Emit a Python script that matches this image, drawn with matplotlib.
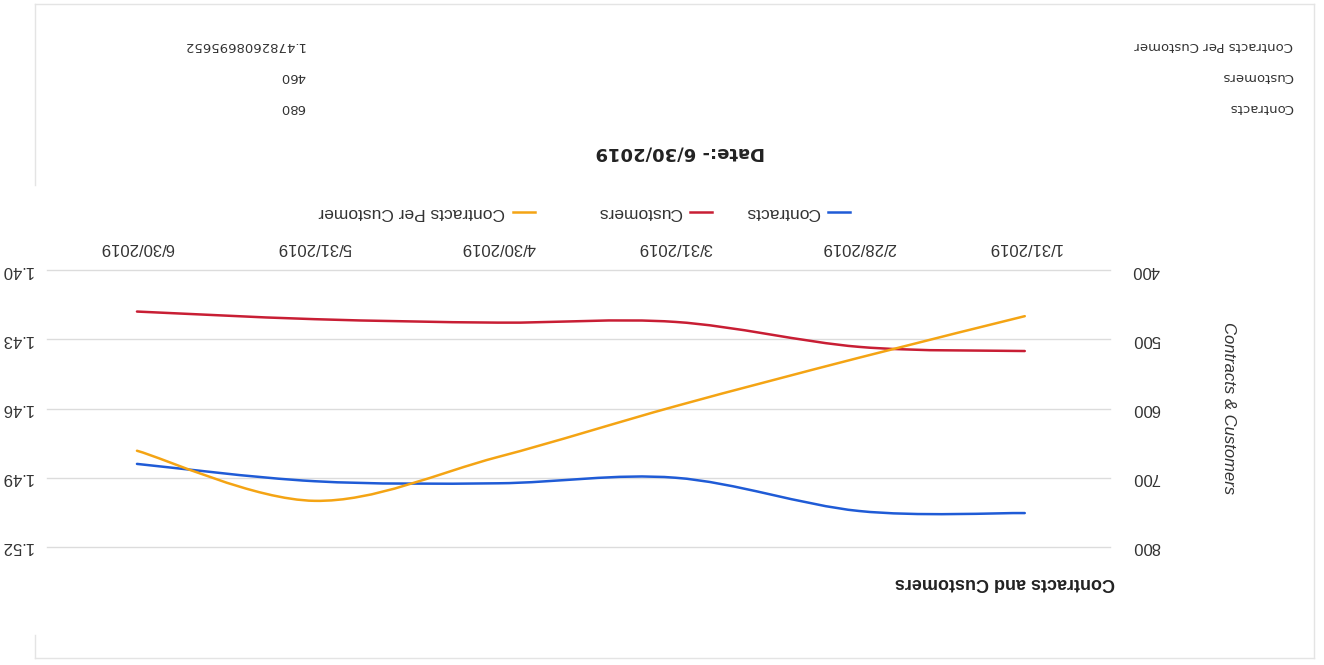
import matplotlib
matplotlib.use("Agg")
import matplotlib.pyplot as plt
import matplotlib.dates as mdates
import numpy as np
import pandas as pd
from matplotlib.lines import Line2D
from matplotlib.patches import PathPatch
from matplotlib.path import Path

dates = ["1/31/2019", "2/28/2019", "3/31/2019", "4/30/2019", "5/31/2019", "6/30/2019"]
contracts = [751, 748, 700, 708, 705, 680]
customers = [517, 511, 475, 476, 471, 460]
per_customer = [1.420, 1.438, 1.459, 1.481, 1.500, 1.4783]

left_ticks = [400, 500, 600, 700, 800]
right_ticks = [1.40, 1.43, 1.46, 1.49, 1.52]

series_names = ["Contracts", "Customers", "Contracts Per Customer"]
table_labels = ["Contracts", "Customers", "Contracts Per Customer"]
table_values = ["680", "460", "1.4782608695652"]
report_date = "6/30/2019"

BLUE = "#1f5bd6"
RED = "#c81e34"
ORANGE = "#f4a414"
GRID = "#dcdcdc"
BORDER = "#e4e4e4"

W, H = 1324, 665

plt.rcParams["font.family"] = ["Liberation Sans", "DejaVu Sans"]


def fx(px):
    return px / W


def fy(py):
    return 1 - py / H


def smooth_path(xs, ys):
    """Catmull-Rom style cubic path through the points (like google's curveType function)."""
    pts = np.column_stack([xs, ys]).astype(float)
    ext = np.vstack([pts[0], pts, pts[-1]])
    verts = [pts[0]]
    codes = [Path.MOVETO]
    for i in range(len(pts) - 1):
        p0, p1, p2, p3 = ext[i], ext[i + 1], ext[i + 2], ext[i + 3]
        verts += [p1 + (p2 - p0) / 6, p2 - (p3 - p1) / 6, p2]
        codes += [Path.CURVE4] * 3
    return Path(verts, codes)


x = mdates.date2num(pd.to_datetime(dates, format="%m/%d/%Y"))

fig = plt.figure(figsize=(W / 100, H / 100), dpi=100)
ax = fig.add_axes([fx(47), fy(547), fx(1110) - fx(47), fy(270) - fy(547)])
ax2 = ax.twinx()

# whole chart is upside down: both axes reversed
ax.set_xlim(x[-1] + 15.2, x[0] - 14.4)
ax.set_ylim(left_ticks[-1], left_ticks[0])
ax2.set_ylim(right_ticks[-1], right_ticks[0])

for a in (ax, ax2):
    for s in a.spines.values():
        s.set_visible(False)
    a.patch.set_alpha(0)

ax.grid(axis="y", color=GRID, lw=1)
ax.set_axisbelow(True)

ax.add_patch(PathPatch(smooth_path(x, contracts), fill=False, edgecolor=BLUE, lw=1.8, capstyle="round"))
ax.add_patch(PathPatch(smooth_path(x, customers), fill=False, edgecolor=RED, lw=1.8, capstyle="round"))
ax2.add_patch(PathPatch(smooth_path(x, per_customer), fill=False, edgecolor=ORANGE, lw=1.8, capstyle="round"))

ax.xaxis.tick_top()
ax.set_xticks(x)
ax.set_xticklabels(dates)
ax.tick_params(axis="x", length=0, pad=11, labelsize=12, labelcolor="#333333", labelrotation=180)

ax.yaxis.tick_right()
ax.set_yticks(left_ticks)
ax.tick_params(axis="y", length=0, pad=16, labelsize=12, labelcolor="#333333", labelrotation=180)

ax2.yaxis.tick_left()
ax2.set_yticks(right_ticks)
ax2.set_yticklabels([f"{v:.2f}" for v in right_ticks])
ax2.tick_params(axis="y", length=0, pad=10, labelsize=12, labelcolor="#333333", labelrotation=180)
for lab in ax.get_yticklabels() + ax2.get_yticklabels():
    lab.set_va("center")
for gl in ax.get_ygridlines():
    gl.set_clip_on(False)

# titles
fig.text(fx(1115), fy(583), "Contracts and Customers", rotation=180, ha="right", va="center",
         fontsize=13, fontweight="bold", color="#222222")
fig.text(fx(1228), fy(408), "Contracts & Customers", rotation=270, ha="center", va="center",
         fontsize=12, style="italic", color="#333333")

# legend, drawn by hand because it is mirrored
legend_right = [850, 712, 535]
for name, color, xr in zip(series_names, [BLUE, RED, ORANGE], legend_right):
    fig.add_artist(Line2D([fx(xr - 22), fx(xr)], [fy(212), fy(212)], color=color, lw=1.8))
    fig.text(fx(xr - 30), fy(212), name, rotation=180, ha="right", va="center",
             fontsize=12.5, color="#333333")

# report block
fig.text(fx(680), fy(153), f"Date:- {report_date}", rotation=180, ha="center", va="center",
         fontsize=13, fontweight="bold", family="DejaVu Sans", color="#222222")
for i, (lab, val) in enumerate(zip(table_labels, table_values)):
    yy = 108 - i * 31.5
    fig.text(fx(1293), fy(yy), lab, rotation=180, ha="right", va="center",
             fontsize=9.5, family="DejaVu Sans", color="#333333")
    fig.text(fx(305), fy(yy), val, rotation=180, ha="right", va="center",
             fontsize=9.5, family="DejaVu Sans", color="#333333")

# page border from the scan
for xs, ys in [
    ([35, 1314], [4, 4]),
    ([35, 1314], [658, 658]),
    ([1314, 1314], [4, 658]),
    ([35, 35], [4, 185]),
    ([35, 35], [635, 658]),
]:
    fig.add_artist(Line2D([fx(v) for v in xs], [fy(v) for v in ys], color=BORDER, lw=1))

fig.savefig("out.png", dpi=100)
